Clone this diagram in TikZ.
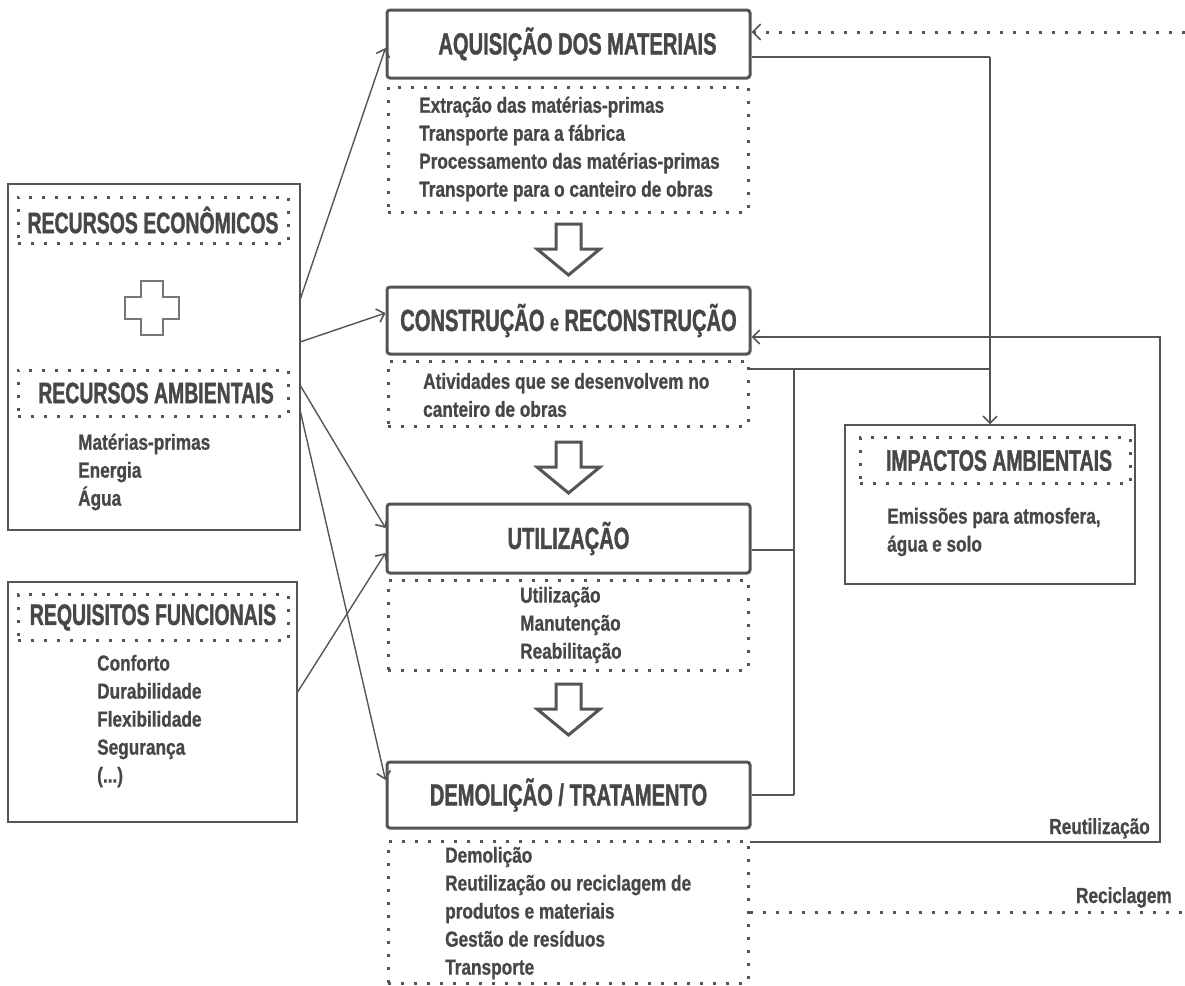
\documentclass[tikz,border=0pt]{standalone}
\usepackage{fontspec}
\newfontfamily\titlef{Liberation Sans}[UprightFont={* Bold}, FakeStretch=0.66, FakeBold=1.2]
\newfontfamily\subf{Liberation Sans}[UprightFont={* Bold}, FakeStretch=0.79, FakeBold=0.8]
\usetikzlibrary{arrows.meta}
\definecolor{txt}{HTML}{474747}
\definecolor{ln}{HTML}{555555}
\definecolor{crossc}{HTML}{777777}
\tikzset{
  stagebox/.style={draw=ln, line width=3pt, rounded corners=3pt, inner sep=0pt,
    minimum width=363pt, text=txt, font=\titlef\fontsize{30.5}{32}\selectfont},
  dotbox/.style={draw=ln, line width=3pt, dash pattern=on 3pt off 10pt,
    inner sep=0pt},
  headbox/.style={dotbox, minimum width=270pt, minimum height=46pt, text=txt,
    font=\titlef\fontsize{29.5}{32}\selectfont},
  framebox/.style={draw=ln, line width=1.5pt, inner sep=0pt},
  sub/.style={text=txt, align=left, inner sep=0pt,
    font=\subf\fontsize{21.8}{28}\selectfont},
  conn/.style={draw=ln, line width=1.4pt},
  tip/.style={-{Straight Barb[length=7pt,width=14pt,line width=1.6pt]}},
  dotline/.style={draw=ln, line width=3pt, dash pattern=on 3pt off 10pt},
  hollow/.style={draw=ln, line width=3pt, fill=white, line join=miter},
}
\begin{document}
\begin{tikzpicture}[x=1pt,y=-1pt]
\useasboundingbox (0,0) rectangle (1185,985);

% life-cycle stages
\node[stagebox, minimum height=68pt] (aq) at (568.5,44) {\hspace*{18pt}AQUISIÇÃO DOS MATERIAIS};
\node[stagebox, minimum height=67pt] (co) at (568.5,320.5) {CONSTRUÇÃO {\fontsize{24}{26}\selectfont e} RECONSTRUÇÃO};
\node[stagebox, minimum height=69pt] (ut) at (568.5,538.5) {UTILIZAÇÃO};
\node[stagebox, minimum height=66pt] (de) at (568.5,795) {DEMOLIÇÃO / TRATAMENTO};

% activity panels under each stage
\node[dotbox, minimum width=360pt, minimum height=125pt] (aqd) at (568,149.5) {};
\node[dotbox, minimum width=360pt, minimum height=65pt] (cod) at (568,393.5) {};
\node[dotbox, minimum width=360pt, minimum height=90pt] (utd) at (568,625) {};
\node[dotbox, minimum width=360pt, minimum height=142pt] (ded) at (568,912) {};

\node[sub, anchor=west] (aqt) at (419,149) {Extração das matérias-primas\\Transporte para a fábrica\\Processamento das matérias-primas\\Transporte para o canteiro de obras};
\node[sub, anchor=west] (cot) at (423,395) {Atividades que se desenvolvem no\\canteiro de obras};
\node[sub, anchor=west] (utt) at (520,625) {Utilização\\Manutenção\\Reabilitação};
\node[sub, anchor=west] (det) at (445,913) {Demolição\\Reutilização ou reciclagem de\\produtos e materiais\\Gestão de resíduos\\Transporte};

% hollow arrows between stages
\foreach \t in {224,442,684}{
  \draw[hollow] (556,\t) -- (581,\t) -- (581,\t+25) -- (600,\t+25) -- (568.5,\t+51)
    -- (537,\t+25) -- (556,\t+25) -- cycle;
}

% resources panel
\node[framebox, minimum width=292pt, minimum height=346pt] (lb1) at (154,357) {};
\node[headbox] (re) at (153,220) {RECURSOS ECONÔMICOS};
\node[headbox] (ra) at (153,393) {\hspace*{6pt}RECURSOS AMBIENTAIS};
\draw[draw=crossc, line width=2.6pt, line join=miter] (141,281) -- (163,281) -- (163,297)
  -- (179,297) -- (179,319) -- (163,319) -- (163,335) -- (141,335) -- (141,319)
  -- (125,319) -- (125,297) -- (141,297) -- cycle;
\node[sub, anchor=west] (rat) at (78,472) {Matérias-primas\\Energia\\Água};

% functional requirements panel
\node[framebox, minimum width=289pt, minimum height=240pt] (lb2) at (152.5,702) {};
\node[headbox] (rf) at (153,617.5) {REQUISITOS FUNCIONAIS};
\node[sub, anchor=west] (rft) at (97,721) {Conforto\\Durabilidade\\Flexibilidade\\Segurança\\(...)};

% environmental impacts panel
\node[framebox, minimum width=290pt, minimum height=159pt] (imp) at (990,504.5) {};
\node[headbox] (impd) at (995,460.5) {\hspace*{8pt}IMPACTOS AMBIENTAIS};
\node[sub, anchor=west] (impt) at (887,532) {Emissões para atmosfera,\\água e solo};

% inputs from the left panels
\coordinate (o1) at (300,300);
\coordinate (o2) at (300,342);
\coordinate (o3) at (300,385);
\coordinate (o4) at (300,410);
\coordinate (o5) at (297,693);
\draw[conn, tip] (o1) -- (aq.west |- 0,48);
\draw[conn, tip] (o2) -- (co.west |- 0,313);
\draw[conn, tip] (o3) -- (ut.west |- 0,528);
\draw[conn, tip] (o4) -- (de.west |- 0,780);
\draw[conn, tip] (o5) -- (ut.west |- 0,553);

% emissions collector
\coordinate (ja) at (990,57);
\coordinate (jb) at (990,369);
\coordinate (jc) at (794,369);
\coordinate (jd) at (794,795);
\draw[conn] (aq.east |- ja) -- (ja);
\draw[conn, tip] (ja) -- (imp.north);
\draw[conn] (cod.east |- jb) -- (jb);
\draw[conn] (jc) -- (jd);
\draw[conn] (ut.east |- 0,550) -- (jc |- 0,550);
\draw[conn] (de.east |- jd) -- (jd);

% reuse loop
\coordinate (ra1) at (1160,842);
\coordinate (ra2) at (1160,337);
\draw[conn, tip] (ded.north east |- ra1) -- (ra1) -- (ra2) -- (co.east |- ra2);
\node[sub, anchor=base east] (reut) at (1150,834) {Reutilização};

% recycling loop
\coordinate (rc1) at (1185,912);
\coordinate (rc2) at (1185,32);
\draw[dotline] (ded.east |- rc1) -- (rc1);
\node[sub, anchor=base east] (recl) at (1172,903) {Reciclagem};
\draw[dotline, -{Straight Barb[length=8pt,width=16pt,line width=1.6pt]}] (rc2) -- (aq.east |- rc2);
\end{tikzpicture}
\end{document}
